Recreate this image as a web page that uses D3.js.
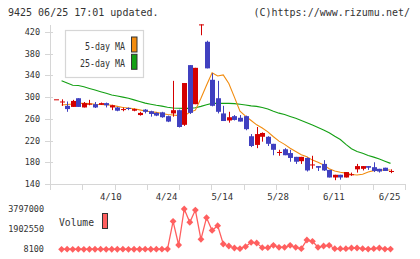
<!DOCTYPE html>
<html><head><meta charset="utf-8">
<script src="https://cdn.jsdelivr.net/npm/d3@7"></script>
<style>body{margin:0;background:#fff}svg{display:block}</style>
</head><body>
<svg id="c" width="420" height="259"></svg>
<script>
const dates = ["3/27","3/28","3/29","4/1","4/2","4/3","4/4","4/5","4/8","4/9","4/10","4/11","4/12","4/15","4/16","4/17","4/18","4/19","4/22","4/23","4/24","4/26","4/30","5/1","5/2","5/7","5/8","5/9","5/10","5/13","5/14","5/15","5/16","5/17","5/20","5/21","5/22","5/23","5/24","5/27","5/28","5/29","5/30","5/31","6/3","6/4","6/5","6/6","6/7","6/10","6/11","6/12","6/13","6/14","6/17","6/18","6/19","6/20","6/21","6/24","6/25"];
const open  = [296,291,284,282,298,281,287,287,286,289,281,281,277,280,275,267,277,274,271,272,265,270,276,249,359,287,434,402,332,298,270,257,265,262,265,228,212,227,227,214,198,204,197,190,182,188,175,173,177,166,152,157,152,157,167,168,173,171,168,170,164];
const high  = [296,296,292,295,298,291,295,291,290,290,286,282,281,281,279,273,278,275,272,273,266,330,277,326,359,354,434,404,344,330,284,273,267,267,266,232,245,235,228,214,203,206,203,190,190,189,192,173,184,166,157,157,162,161,177,173,173,180,168,170,167];
const low   = [296,284,273,282,282,281,285,280,286,281,276,274,274,276,274,266,270,264,265,262,254,264,244,247,269,287,414,353,283,270,256,253,257,255,239,208,206,218,210,193,192,193,181,177,177,163,168,164,164,152,147,148,152,155,161,165,166,162,161,164,160];
const close = [296,292,278,293,282,289,288,281,289,285,285,275,278,279,278,271,273,269,266,263,255,276,245,326,271,354,434,353,284,273,256,263,258,255,241,210,232,234,214,203,199,193,188,181,190,165,176,170,165,152,157,152,162,158,173,173,170,164,163,164,164];
const ma5   = [null,285.5,286.5,287.5,288.5,288.5,288,287,286.5,286,285,283,281,280,278.5,276.5,274.5,273,272,270,268,267,266,266,272,276,298,322,345,339,341,325,300,274,265,257,249,243,236,227,219,213,206,200,194,190,184,180,175,168,164,161.6,160,157.5,156.6,158,162,164.6,165.5,165.8,165.8];
const ma25  = [null,330,326,322,321.5,319,316,313,310,307,304,302,300,298,295,292,289,287,285,283.5,281.5,280,279.5,279.4,279.4,280.5,283,286,288.5,288.6,288.6,288.6,288,287,285.5,284,283,281,278,274,270.5,268,264.5,261,257,252.7,248.5,244,239.5,234.5,228,222,213,205,200,196.5,192.5,189.5,186,182,178];
const volume = [null,8100,15200,10300,22400,9800,13100,11700,18500,9200,12600,10900,16300,8900,14200,11500,19800,13400,21700,17600,25300,2640000,412000,3797000,2550000,3700000,948000,2980000,1780000,2230000,506000,318000,130000,65000,252000,666000,600000,160000,160000,384000,196000,196000,384000,196000,65000,882000,760000,196000,318000,384000,65000,65000,65000,130000,130000,65000,30000,65000,130000,30000,30000];
const priceTicks = [140,180,220,260,300,340,380,420];
const dateTicks = ["4/10","4/24","5/14","5/28","6/11","6/25"];
const legendLabels = ["5-day MA","25-day MA"];
const titleText = "9425 06/25 17:01 updated.";
const creditText = "(C)https://www.rizumu.net/";

const RED="#d40000", BLUE="#4040c0", ORANGE="#f28c0f", GREEN="#14a014", VOL="#ff5f5f", AX="#d6d6d6", TXT="#333";
const mono = "'DejaVu Sans Mono', 'Liberation Mono', monospace";
const svg = d3.select("#c");

const x = d3.scalePoint().domain(dates).range([56, 390.5]);
const y = d3.scaleLinear().domain([140, 420]).range([184, 32]);
const weekGrid = d3.scaleLinear().domain([0, 11]).range([50, 405]);
const vmin = d3.min(volume.filter(v => v != null)), vmax = d3.max(volume);
const yv = d3.scaleLinear().domain([vmin, vmax]).range([249.3, 209]);

// header texts
svg.append("text").attr("x", 8).attr("y", 16).attr("font-family", mono).attr("font-size", 10).attr("fill", TXT).text(titleText);
svg.append("text").attr("x", 410).attr("y", 16).attr("text-anchor", "end").attr("font-family", mono).attr("font-size", 10).attr("fill", TXT).text(creditText);

// axes
svg.append("line").attr("x1", 50.5).attr("x2", 50.5).attr("y1", 25).attr("y2", 190).attr("stroke", AX);
svg.append("line").attr("x1", 50).attr("x2", 405).attr("y1", 184.5).attr("y2", 184.5).attr("stroke", AX);
svg.selectAll(".wt").data(d3.range(0, 12)).join("line")
  .attr("x1", d => Math.round(weekGrid(d)) + 0.5).attr("x2", d => Math.round(weekGrid(d)) + 0.5)
  .attr("y1", 184).attr("y2", 190).attr("stroke", AX);
svg.selectAll(".pt").data(priceTicks).join("line")
  .attr("x1", 45).attr("x2", 53).attr("y1", d => Math.round(y(d)) + 0.5).attr("y2", d => Math.round(y(d)) + 0.5).attr("stroke", AX);
svg.selectAll(".pl").data(priceTicks).join("text")
  .attr("x", 40).attr("y", d => y(d) + 3).attr("text-anchor", "end")
  .attr("font-family", mono).attr("font-size", 8.5).attr("fill", TXT).text(d => d);
svg.selectAll(".dl").data(dateTicks).join("text")
  .attr("x", d => x(d) - 1).attr("y", 200).attr("text-anchor", "middle")
  .attr("font-family", mono).attr("font-size", 9).attr("fill", TXT).text(d => d);

// moving averages
const idx = d3.range(dates.length);
const line = arr => d3.line().defined(i => arr[i] != null).x(i => x(dates[i])).y(i => y(arr[i]));
svg.append("path").attr("d", line(ma25)(idx)).attr("fill", "none").attr("stroke", GREEN).attr("stroke-width", 1.1);
svg.append("path").attr("d", line(ma5)(idx)).attr("fill", "none").attr("stroke", ORANGE).attr("stroke-width", 1.1);

// candles
const cg = svg.append("g");
idx.forEach(i => {
  const cx = x(dates[i]);
  const col = close[i] >= open[i] ? RED : BLUE;
  const wx = Math.round(cx) + 0.5;
  cg.append("line").attr("x1", wx).attr("x2", wx).attr("y1", y(high[i])).attr("y2", y(low[i])).attr("stroke", col).attr("stroke-width", 1);
  const top = y(Math.max(open[i], close[i])), bot = y(Math.min(open[i], close[i]));
  cg.append("rect").attr("x", Math.round(cx) - 2).attr("width", 5)
    .attr("y", top).attr("height", Math.max(1, bot - top)).attr("fill", col);
});

// legend
svg.append("rect").attr("x", 65.5).attr("y", 30.5).attr("width", 78).attr("height", 47).attr("fill", "#fff").attr("stroke", AX).attr("stroke-width", 1.2);
const lg = svg.selectAll(".lg").data(legendLabels).join("g");
lg.append("text").attr("x", 125).attr("y", (d, i) => 50 + i * 17).attr("text-anchor", "end")
  .attr("font-family", mono).attr("font-size", 11).attr("fill", TXT)
  .attr("textLength", (d) => d.length * 5).attr("lengthAdjust", "spacingAndGlyphs").text(d => d);
lg.append("rect").attr("x", 131.5).attr("y", (d, i) => 37 + i * 17.3).attr("width", 5.5).attr("height", 15)
  .attr("fill", (d, i) => i ? GREEN : ORANGE).attr("stroke", "#333").attr("stroke-width", 1);

// volume
const vIdx = idx.filter(i => volume[i] != null);
svg.selectAll(".vl").data([vIdx]).join("text");
[vmax, (vmax + vmin) / 2, vmin].forEach(v => {
  svg.append("text").attr("x", 44).attr("y", yv(v) + 3).attr("text-anchor", "end")
    .attr("font-family", mono).attr("font-size", 8.5).attr("fill", TXT).text(v);
});
svg.append("path").attr("d", d3.line().x(i => x(dates[i])).y(i => yv(volume[i]))(vIdx))
  .attr("fill", "none").attr("stroke", VOL).attr("stroke-width", 1.3);
svg.selectAll(".vd").data(vIdx).join("path")
  .attr("transform", i => `translate(${x(dates[i])},${yv(volume[i])})`)
  .attr("d", "M0,-3.4L3.4,0L0,3.4L-3.4,0Z").attr("fill", VOL);
svg.append("text").attr("x", 59).attr("y", 226).attr("font-family", mono).attr("font-size", 11).attr("fill", TXT)
  .attr("textLength", 35).attr("lengthAdjust", "spacingAndGlyphs").text("Volume");
svg.append("rect").attr("x", 102.5).attr("y", 213.5).attr("width", 5).attr("height", 15).attr("fill", VOL).attr("stroke", "#333");
</script>
</body></html>
